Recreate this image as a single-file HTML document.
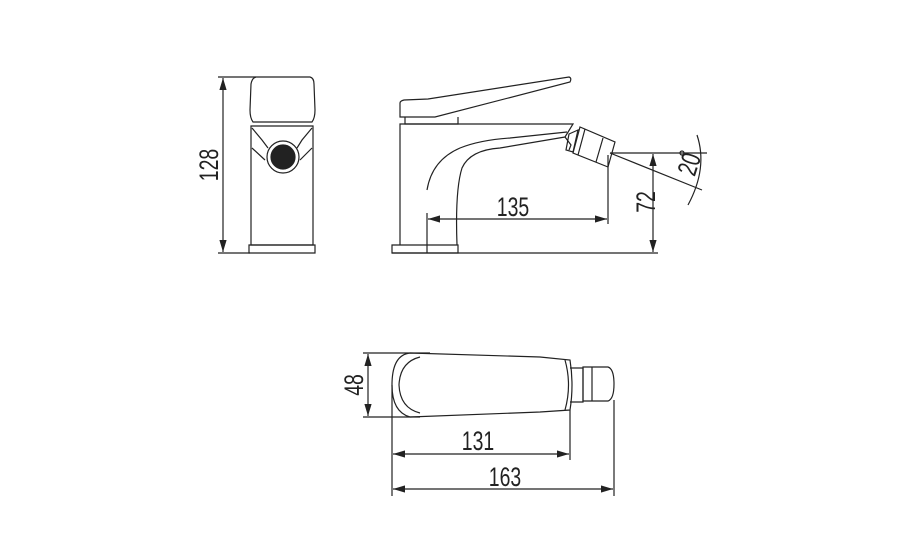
<!DOCTYPE html>
<html><head><meta charset="utf-8"><style>
html,body{margin:0;padding:0;background:#fff;}
svg{display:block}
text{font-family:"Liberation Sans",sans-serif;font-size:27px;fill:#222;}
</style></head><body>
<svg width="900" height="545" viewBox="0 0 900 545" xmlns="http://www.w3.org/2000/svg">
<defs>
<marker id="a" viewBox="0 0 10 6" refX="10" refY="3" markerWidth="10" markerHeight="6" orient="auto-start-reverse"><path d="M0,0 L10,3 L0,6 z" fill="#222"/></marker>
</defs>
<g fill="none" stroke="#222" stroke-width="1.2">
<!-- FRONT VIEW -->
<path d="M256,77 L310,77 Q314,78 314,84 L315,110 Q315,118 312,122 L253,122 Q250,118 250,110 L251,84 Q252,78 256,77 Z"/>
<path d="M251,126 L313,126 L313,245 L251,245 Z"/>
<path d="M249,245 L315,245 L315,253 L249,253 Z"/>
<path d="M252,128 L262,140 L268,148 M312,128 L302,140 L297,148"/>
<path d="M252,148 L265,160 M312,148 L300,160"/>
<circle cx="283" cy="157" r="16"/>
<circle cx="283" cy="157" r="12" fill="#222"/>
<!-- 128 dim -->
<path d="M218,77 L256,77 M218,253 L250,253"/>
<path d="M223,78 L223,252" marker-start="url(#a)" marker-end="url(#a)"/>
<!-- SIDE VIEW -->
<path d="M400,103 L400,117 L435,117 L570,82 Q572,78 569,77 L428,99 L404,100 Q400,101 400,103 Z"/>
<path d="M405,117 L405,124 L458,124 L458,117"/>
<path d="M392,245 L458,245 L458,253 L392,253 Z"/>
<path d="M400,245 L400,124 L573,124 L565,137"/>
<path d="M457,245 Q455,190 462,168 Q470,150 500,148 L565,137"/>
<path d="M427,190 Q432,160 460,148 Q480,140 510,138 L567,132"/>
<path d="M565,137 L571,145 L569,150"/>
<path d="M569,134 L578,130 L573,152 L566,150 Z"/>
<path d="M580,127 L615,142 L608,167 L573,153 Z"/>
<path d="M585,129 L578,155 M603,138 L596,162"/>
<!-- dims side -->
<path d="M392,253 L658,253"/>
<path d="M427,213 L427,253 M608,155 L608,224"/>
<path d="M428,219 L607,219" marker-start="url(#a)" marker-end="url(#a)"/>
<path d="M610,153 L707,153"/>
<path d="M653,154 L653,252" marker-start="url(#a)" marker-end="url(#a)"/>
<path d="M610,153 L702,190"/>
<path d="M697,135 Q708,168 688,205"/>
<circle cx="682" cy="153" r="2"/>
<!-- TOP VIEW -->
<path d="M410,353 L540,357 L570,360 Q574,385 570,410 L540,412 L410,417 Q392,412 392,385 Q392,355 410,353 Z"/>
<path d="M420,357 Q400,362 399,385 Q400,408 420,413"/>
<path d="M565,360 Q572,385 565,410"/>
<path d="M570,368 L583,368 L583,402 L570,402"/>
<path d="M583,367 L608,367 Q614,369 614,384 Q614,399 608,401 L583,401 Z"/>
<path d="M592,367 L592,401"/>
<path d="M363,353 L430,353 M363,417 L420,417"/>
<path d="M368,354 L368,416" marker-start="url(#a)" marker-end="url(#a)"/>
<path d="M392,385 L392,496 M570,410 L570,460 M614,400 L614,496"/>
<path d="M393,454 L569,454" marker-start="url(#a)" marker-end="url(#a)"/>
<path d="M393,489 L613,489" marker-start="url(#a)" marker-end="url(#a)"/>
</g>
<text transform="translate(218,165) rotate(-90) scale(0.72,1)" text-anchor="middle">128</text>
<text transform="translate(513,216) scale(0.72,1)" text-anchor="middle">135</text>
<text transform="translate(655,202) rotate(-90) scale(0.72,1)" text-anchor="middle">72</text>
<text transform="translate(698,167) rotate(-72) scale(0.72,1)" text-anchor="middle">20</text>
<text transform="translate(363,385) rotate(-90) scale(0.72,1)" text-anchor="middle">48</text>
<text transform="translate(478,450) scale(0.72,1)" text-anchor="middle">131</text>
<text transform="translate(505,486) scale(0.72,1)" text-anchor="middle">163</text>
</svg>
</body></html>
